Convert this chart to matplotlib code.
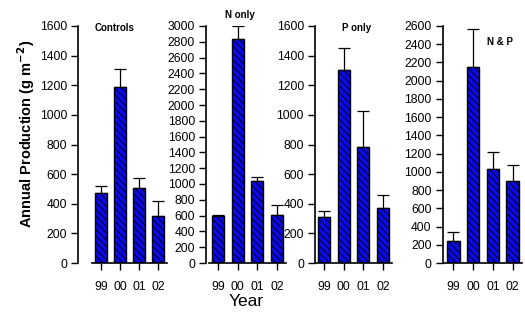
import matplotlib
matplotlib.use("Agg")
import matplotlib.pyplot as plt
import numpy as np

plt.rcParams['font.family'] = ['Liberation Sans', 'DejaVu Sans']
plt.rcParams['hatch.linewidth'] = 0.6

years = ["99", "00", "01", "02"]

controls = [470, 1190, 505, 320]
controls_err = [50, 120, 70, 100]
n_only = [590, 2830, 1040, 610]
n_only_err = [20, 170, 50, 120]
p_only = [310, 1300, 780, 370]
p_only_err = [40, 150, 245, 90]
n_and_p = [240, 2150, 1030, 900]
n_and_p_err = [100, 420, 190, 180]

titles = ["Controls", "N only", "P only", "N & P"]
ymaxes = [1600, 3000, 1600, 2600]

W, H = 525, 314
fig = plt.figure(figsize=(W / 100, H / 100), dpi=100)

# (x-axis start px, x-axis end px, spine offset px, title x px, title y px)
layout = [
    (92, 167, 10, 115, 28),
    (209, 286, 2, 240, 15),
    (315, 392, 0, 357, 28),
    (444, 522, 1, 500, 42),
]
top_px, bot_px = 26, 263

data = [(controls, controls_err), (n_only, n_only_err),
        (p_only, p_only_err), (n_and_p, n_and_p_err)]

x = np.arange(len(years))
for i, ((vals, errs), (x0, x1, off, tx, ty)) in enumerate(zip(data, layout)):
    ax = fig.add_axes([x0 / W, 1 - bot_px / H, (x1 - x0) / W, (bot_px - top_px) / H])
    ax.bar(x, vals, width=0.63, color='#0a0ae6', edgecolor='black',
           linewidth=1.0, hatch='\\' * 5, zorder=2)
    ax.errorbar(x, vals, yerr=[np.zeros(len(errs)), errs], fmt='none',
                ecolor='black', elinewidth=0.9, capsize=4, capthick=0.9, zorder=1)
    ax.set_xlim(-0.47, 3.47)
    ax.set_ylim(0, ymaxes[i])
    ax.set_yticks(np.arange(0, ymaxes[i] + 1, 200))
    ax.set_xticks(x)
    ax.set_xticklabels(years)
    for s in ['top', 'right']:
        ax.spines[s].set_visible(False)
    ax.spines['left'].set_position(('outward', off))
    ax.spines['left'].set_linewidth(1.2)
    ax.spines['bottom'].set_linewidth(1.2)
    ax.tick_params(axis='y', length=5, width=1, pad=3, labelsize=8.7)
    ax.tick_params(axis='x', length=5, width=1, pad=8, labelsize=8.7)
    ax.patch.set_visible(False)
    fig.text(tx / W, 1 - ty / H, titles[i], fontsize=7, fontweight='bold',
             ha='center', va='center')

fig.text(26 / W, 1 - 134 / H, "Annual Production (g m$^{\\mathbf{-2}}$)",
         rotation=90, fontsize=10.5, fontweight='bold', ha='center', va='center')
fig.text(246 / W, 1 - 301 / H, "Year", fontsize=12.5, ha='center', va='center')

fig.savefig("out.png", dpi=100)
